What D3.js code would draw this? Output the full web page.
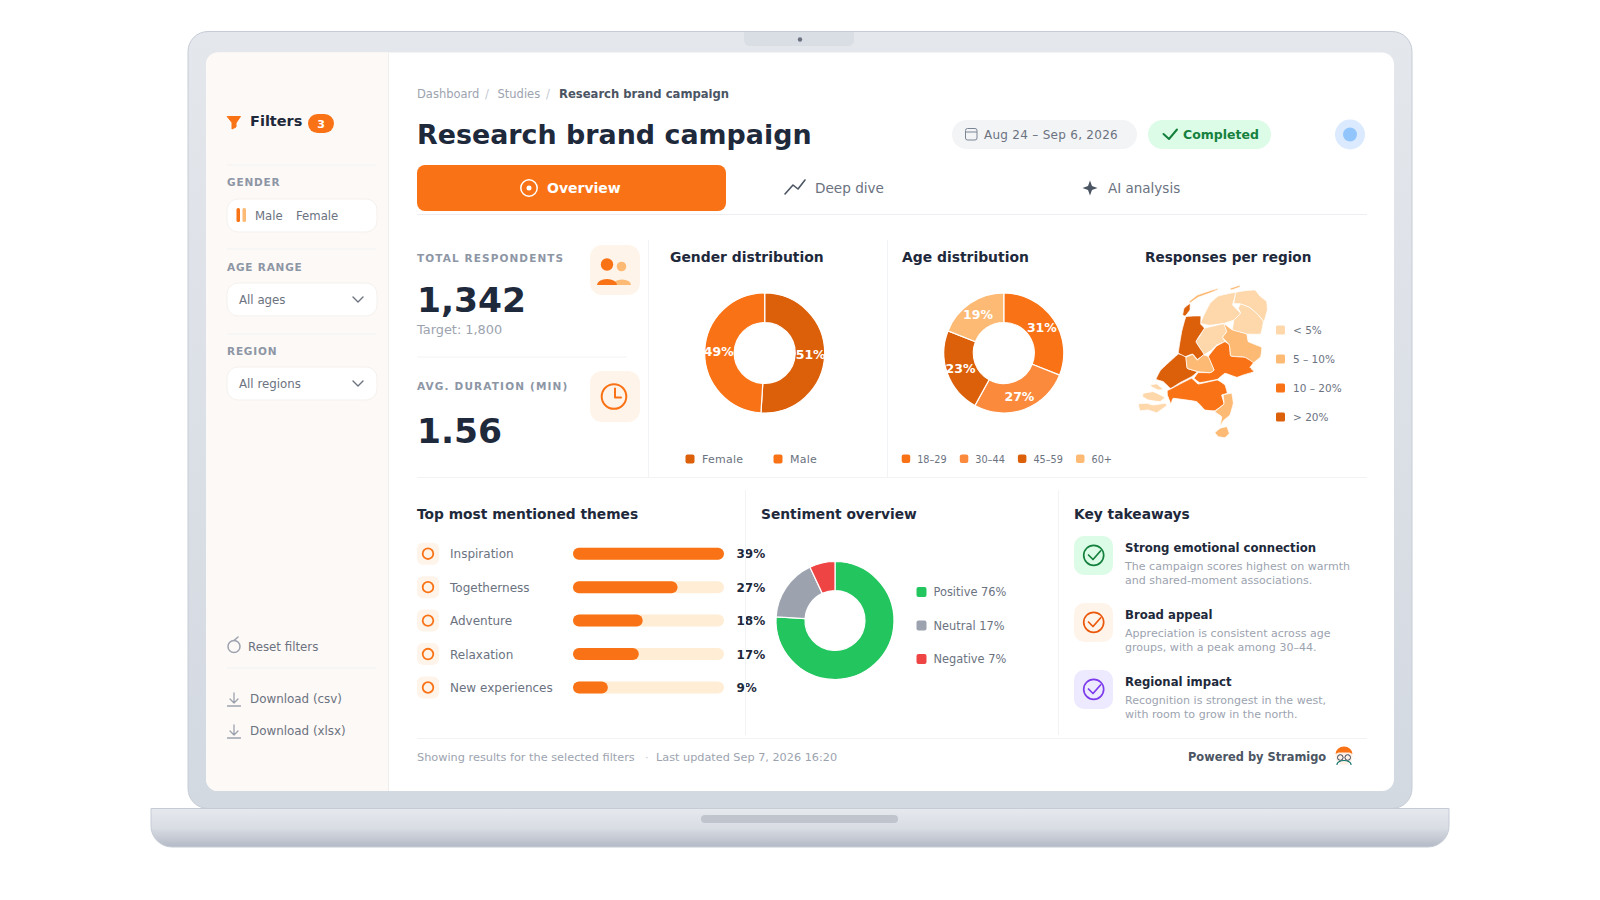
<!DOCTYPE html>
<html>
<head>
<meta charset="utf-8">
<script src="https://cdn.jsdelivr.net/npm/d3@7"></script>
<style>
  html, body { margin: 0; padding: 0; background: #fff; }
  svg { display: block; }
  text { font-family: "DejaVu Sans", sans-serif; }
</style>
</head>
<body>
<div id="chart"></div>
<script>
// chart values
const genderLabels = ['Female', 'Male'];
const genderValues = [51, 49];
const ageLabels = ['18\u201329', '30\u201344', '45\u201359', '60+'];
const ageValues = [31, 27, 23, 19];
const regionTiers = ['< 5%', '5 \u2013 10%', '10 \u2013 20%', '> 20%'];
const themeLabels = ['Inspiration', 'Togetherness', 'Adventure', 'Relaxation', 'New experiences'];
const themeValues = [39, 27, 18, 17, 9];
const sentimentLabels = ['Positive', 'Neutral', 'Negative'];
const sentimentValues = [76, 17, 7];
const takeawayTitles = ['Strong emotional connection', 'Broad appeal', 'Regional impact'];
const takeawayLines = [
  ['The campaign scores highest on warmth', 'and shared-moment associations.'],
  ['Appreciation is consistent across age', 'groups, with a peak among 30\u201344.'],
  ['Recognition is strongest in the west,', 'with room to grow in the north.']
];

// province outlines in map units, second item is the index into regionTiers
const regionShapes = [
  [[[272,190],[282,165],[300,130],[325,108],[378,97],[368,135],[392,160],[372,180],[342,190],[300,196]], 0],
  [[[378,97],[405,92],[435,90],[450,108],[470,125],[472,150],[462,185],[445,165],[420,143],[392,132],[372,130]], 0],
  [[[392,132],[420,143],[445,165],[460,185],[452,222],[410,222],[368,210],[372,180],[392,160],[385,145]], 0],
  [[[283,205],[342,191],[350,215],[338,232],[345,245],[320,255],[305,270],[282,283],[258,245],[270,228]], 0],
  [[[342,191],[368,210],[410,222],[415,245],[455,262],[452,290],[430,308],[405,292],[362,288],[358,255],[338,232],[350,215]], 1],
  [[[345,245],[358,255],[362,288],[405,292],[430,308],[420,322],[432,335],[400,345],[380,352],[345,340],[322,358],[270,368],[252,355],[265,338],[300,338],[312,330],[295,290],[320,258]], 2],
  [[[228,170],[272,168],[272,192],[283,205],[258,245],[282,283],[262,298],[248,282],[225,290],[205,278],[215,215]], 3],
  [[[218,165],[222,145],[240,130],[240,150],[226,168]], 3],
  [[[237,125],[262,105],[300,92],[325,85],[322,90],[298,100],[265,112],[242,128]], 1],
  [[[360,85],[388,76],[390,81],[365,90]], 1],
  [[[205,282],[228,292],[232,325],[262,335],[245,350],[210,368],[182,385],[160,365],[138,358],[152,330]], 3],
  [[[228,292],[248,284],[262,300],[280,285],[295,290],[312,330],[300,338],[265,335],[232,325]], 1],
  [[[172,392],[182,387],[210,372],[245,355],[265,372],[322,360],[345,375],[352,400],[335,405],[342,432],[315,452],[285,450],[260,425],[190,415],[183,432],[172,405]], 2],
  [[[340,405],[365,400],[370,430],[360,465],[340,482],[330,500],[335,470],[315,455],[342,432]], 1],
  [[[330,505],[350,500],[358,520],[345,533],[325,530],[315,518]], 1],
  [[[120,375],[140,372],[160,388],[145,390],[128,382]], 0],
  [[[100,400],[130,395],[165,412],[150,425],[115,420],[98,410]], 0],
  [[[85,432],[110,430],[130,435],[165,430],[170,437],[140,458],[115,450],[90,452]], 0]
];

const orange = '#f97316', orangeDark = '#dc5f0a', orangeMid = '#fb8a3c', orangeSoft = '#fdba74', orangePale = '#fed7aa';
const ink = '#1e293b', grey = '#6b7280', greyLight = '#9ca3af', rule = '#f1f3f5', tint = '#fff4ea';

const svg = d3.select('#chart').append('svg').attr('width', 1600).attr('height', 900);
const defs = svg.append('defs');

function gradient(id, stops) {
  const g = defs.append('linearGradient').attr('id', id).attr('x1', 0).attr('y1', 0).attr('x2', 0).attr('y2', 1);
  stops.forEach((c, i) => g.append('stop').attr('offset', i / (stops.length - 1)).attr('stop-color', c));
}
gradient('lid', ['#e4e7ec', '#d3d9e1']);
gradient('base', ['#e6e9ee', '#d9dde4', '#b4bac6']);

function label(x, y, str, size, color, opts = {}) {
  return svg.append('text').attr('x', x).attr('y', y).text(str)
    .attr('font-size', size).attr('fill', color)
    .attr('font-weight', opts.bold ? 700 : 400)
    .attr('letter-spacing', opts.spacing || null)
    .attr('text-anchor', opts.anchor || 'start');
}
function box(x, y, w, h, r, fill, stroke) {
  return svg.append('rect').attr('x', x).attr('y', y).attr('width', w).attr('height', h)
    .attr('rx', r).attr('fill', fill).attr('stroke', stroke || 'none');
}
function hline(x1, x2, y, color = rule) {
  svg.append('line').attr('x1', x1).attr('x2', x2).attr('y1', y).attr('y2', y).attr('stroke', color);
}
function vline(x, y1, y2, color = rule) {
  svg.append('line').attr('x1', x).attr('x2', x).attr('y1', y1).attr('y2', y2).attr('stroke', color);
}
function icon(d, color, width = 1.6, fill = 'none') {
  return svg.append('path').attr('d', d).attr('fill', fill).attr('stroke', color)
    .attr('stroke-width', width).attr('stroke-linecap', 'round').attr('stroke-linejoin', 'round');
}
function ring(cx, cy, r, color, width) {
  svg.append('circle').attr('cx', cx).attr('cy', cy).attr('r', r)
    .attr('fill', 'none').attr('stroke', color).attr('stroke-width', width);
}
function dot(cx, cy, r, fill) {
  svg.append('circle').attr('cx', cx).attr('cy', cy).attr('r', r).attr('fill', fill);
}

// laptop
box(188, 31.5, 1224, 777, 20, 'url(#lid)', '#c6ccd6');
svg.append('path').attr('d', 'M744 32H854V40a6 6 0 0 1-6 6H750a6 6 0 0 1-6-6Z').attr('fill', '#d9dde4');
dot(800, 39.5, 2.2, '#6b7280');
svg.append('path').attr('fill', 'url(#base)').attr('stroke', '#c6ccd6')
  .attr('d', 'M151 808.5H1449V826a21 21 0 0 1-21 21H172a21 21 0 0 1-21-21Z');
box(701, 815, 197, 8, 4, '#bfc4cd');

// screen
box(206, 52.5, 1188, 738.5, 12, '#ffffff');
svg.append('path').attr('fill', '#fdf9f6')
  .attr('d', 'M388 52.5V791H218a12 12 0 0 1-12-12V64.5a12 12 0 0 1 12-12Z');
vline(388.5, 52.5, 791, '#f0eeec');

// sidebar
icon('M227.5 116.5H240.5L236 123V127L232 129V123Z', orange, 1, orange);
label(250, 126, 'Filters', 14.5, ink, { bold: true });
box(308, 114, 26, 19, 9.5, orange);
label(321, 127.5, '3', 11, '#fff', { bold: true, anchor: 'middle' });

hline(227, 376, 165);
label(227, 186, 'GENDER', 10.5, '#8d96a5', { bold: true, spacing: 0.8 });
box(227, 199, 150, 33, 11, '#fff', '#f5f1ed');
box(236.5, 208, 3.5, 14, 1.5, orange);
box(242.5, 208, 3.5, 14, 1.5, orangeSoft);
label(255, 219.5, 'Male', 11.7, grey);
label(296, 219.5, 'Female', 11.7, grey);

hline(227, 376, 249);
label(227, 271, 'AGE RANGE', 10.5, '#8d96a5', { bold: true, spacing: 0.8 });
box(227, 283, 150, 33, 11, '#fff', '#f5f1ed');
label(239, 304, 'All ages', 11.8, grey);
icon('M353 297L358 302L363 297', grey, 1.4);

hline(227, 376, 334);
label(227, 355, 'REGION', 10.5, '#8d96a5', { bold: true, spacing: 0.8 });
box(227, 367, 150, 33, 11, '#fff', '#f5f1ed');
label(239, 388, 'All regions', 11.8, grey);
icon('M353 381L358 386L363 381', grey, 1.4);

ring(234, 646.5, 6, greyLight, 1.5);
icon('M234 640.5L238 637', greyLight, 1.5);
label(248, 651, 'Reset filters', 11.8, grey);
hline(227, 376, 668);
[0, 32].forEach((dy, i) => {
  icon(`M234 ${693 + dy}V${703 + dy}M230 ${699 + dy}L234 ${703 + dy}L238 ${699 + dy}M227.5 ${706 + dy}H240.5`, greyLight, 1.3);
  label(250, 703 + (i ? 31.5 : 0), i ? 'Download (xlsx)' : 'Download (csv)', 11.9, grey);
});

// header
label(417, 98, 'Dashboard', 11.5, greyLight);
label(485, 98, '/', 11.5, '#c4c9d1');
label(497.5, 98, 'Studies', 11.5, greyLight);
label(546, 98, '/', 11.5, '#c4c9d1');
label(559, 98, 'Research brand campaign', 11.6, '#4b5563', { bold: true });
label(417, 144, 'Research brand campaign', 26.9, ink, { bold: true });

box(952, 120, 185, 29, 14.5, '#f3f4f6');
box(965.5, 128.5, 11.5, 11.5, 2, 'none', '#7b8594');
hline(965.5, 977, 132, '#7b8594');
label(984, 139, 'Aug 24 \u2013 Sep 6, 2026', 12, grey, { spacing: 0.28 });
box(1148, 120, 123, 29, 14.5, '#dcfce7');
icon('M1163.5 134L1169 139L1177 129.5', '#15803d', 2);
label(1183, 139, 'Completed', 12.5, '#15803d', { bold: true });
dot(1350, 134.5, 15, '#dbeafe');
dot(1350, 134.5, 7, '#93c5fd');

box(417, 165, 309, 46, 8, orange);
ring(529, 188, 8.2, '#fff', 1.5);
dot(529, 188, 2.5, '#fff');
label(547, 193, 'Overview', 14, '#fff', { bold: true });
icon('M785 194L793 185L798 189L805 180', '#4b5563', 1.6);
label(815, 193, 'Deep dive', 13.6, grey);
svg.append('path').attr('fill', '#4b5563')
  .attr('d', 'M1090 180.5L1092 186L1097.5 188L1092 190L1090 195.5L1088 190L1082.5 188L1088 186Z');
label(1108, 193, 'AI analysis', 13.5, grey);
hline(417, 1367, 214.5, '#eceef1');

// stat cards
label(417, 262, 'TOTAL RESPONDENTS', 10.5, '#8d96a5', { bold: true, spacing: 1.1 });
label(417, 312, '1,342', 34.5, ink, { bold: true });
label(417, 334, 'Target: 1,800', 12.9, greyLight);
box(590, 245, 50, 50, 12, tint);
dot(607, 264.5, 6.2, orange);
dot(621.5, 266.5, 4.8, orangeSoft);
svg.append('path').attr('fill', orangeSoft).attr('d', 'M613 285a9 5.5 0 0 1 18 0Z');
svg.append('path').attr('fill', orange).attr('d', 'M597 285a10 6 0 0 1 20 0Z');
hline(417, 627, 357);
label(417, 390, 'AVG. DURATION (MIN)', 10.5, '#8d96a5', { bold: true, spacing: 1.15 });
label(417, 443, '1.56', 34.5, ink, { bold: true });
box(590, 371, 50, 51, 12, tint);
ring(614, 396.5, 12.3, orange, 2);
icon('M615 388.5V397.5H621', orange, 2);

vline(648.5, 240, 477);
vline(887.5, 240, 477);
hline(417, 1367, 477.5);

// donut helper, used for gender, age and sentiment
const pie = d3.pie().sort(null).value(d => d);
function donut(cx, cy, outer, inner, values, colors, showLabels) {
  const arc = d3.arc().outerRadius(outer).innerRadius(inner);
  const labelArc = d3.arc().outerRadius(46).innerRadius(46);
  const g = svg.append('g').attr('transform', `translate(${cx},${cy})`);
  const slices = pie(values);
  g.selectAll('path').data(slices).join('path')
    .attr('d', arc).attr('fill', (d, i) => colors[i])
    .attr('stroke', '#fff').attr('stroke-width', 1.2);
  if (showLabels) {
    g.selectAll('text').data(slices).join('text')
      .attr('transform', d => `translate(${labelArc.centroid(d)})`)
      .attr('dy', '0.36em').attr('text-anchor', 'middle')
      .attr('font-size', 12.5).attr('font-weight', 700).attr('fill', '#fff')
      .text(d => `${d.data}%`);
  }
}

// gender
label(670, 262, 'Gender distribution', 13.9, ink, { bold: true });
const genderColors = [orangeDark, orange];
donut(764.7, 353, 60, 30.5, genderValues, genderColors, true);
const genderX = [690, 778];
genderLabels.forEach((name, i) => {
  box(genderX[i] - 4.5, 454.5, 9, 9, 2, genderColors[i]);
  label(genderX[i] + 12, 463, name, 11, grey, { spacing: 0.25 });
});

// age
label(902, 262, 'Age distribution', 13.9, ink, { bold: true });
const ageColors = [orange, orangeMid, orangeDark, orangeSoft];
donut(1003.8, 353, 60, 30.5, ageValues, ageColors, true);
const ageX = d3.scalePoint().domain(ageLabels).range([905.7, 1080]);
ageLabels.forEach((name, i) => {
  box(ageX(name) - 4, 454.5, 8.5, 8.5, 2, ageColors[i]);
  label(ageX(name) + 11.5, 462.5, name, 9.7, grey);
});

// region map
label(1145, 262, 'Responses per region', 13.6, ink, { bold: true });
const tierColors = [orangePale, orangeSoft, orange, orangeDark];
const mapX = d3.scaleLinear().domain([0, 840]).range([1110, 1390]);
const mapY = d3.scaleLinear().domain([0, 570]).range([260, 450]);
const mapLine = d3.line().x(d => mapX(d[0])).y(d => mapY(d[1])).curve(d3.curveCardinalClosed.tension(0.75));
svg.append('g').selectAll('path').data(regionShapes).join('path')
  .attr('d', d => mapLine(d[0]))
  .attr('fill', d => tierColors[d[1]])
  .attr('stroke', '#fff').attr('stroke-width', 0.8).attr('stroke-linejoin', 'round');
const tierY = d3.scalePoint().domain(regionTiers).range([330, 417]);
regionTiers.forEach((name, i) => {
  box(1276, tierY(name) - 4.5, 9, 9, 1.5, tierColors[i]);
  label(1293, tierY(name) + 4, name, 10.5, grey);
});

// themes
label(417, 518.5, 'Top most mentioned themes', 13.8, ink, { bold: true });
const themeY = d3.scalePoint().domain(themeLabels).range([553.7, 687.5]);
const barX = d3.scaleLinear().domain([0, d3.max(themeValues)]).range([0, 151]);
themeLabels.forEach((name, i) => {
  const y = themeY(name);
  box(417, y - 11, 22, 22, 6, tint);
  ring(428, y, 5.3, orange, 1.8);
  label(450, y + 4.5, name, 12, grey);
  box(573, y - 6, 151, 12, 6, '#ffedd5');
  box(573, y - 6, barX(themeValues[i]), 12, 6, orange);
  label(736.5, y + 4.5, `${themeValues[i]}%`, 12, ink, { bold: true });
});

vline(745.5, 490, 735);
vline(1058.5, 490, 735);

// sentiment
label(761, 518.5, 'Sentiment overview', 13.8, ink, { bold: true });
const sentimentColors = ['#22c55e', '#9ca3af', '#ef4444'];
donut(835, 620.5, 59, 30, sentimentValues, sentimentColors, false);
const sentimentY = d3.scalePoint().domain(sentimentLabels).range([592, 659]);
sentimentLabels.forEach((name, i) => {
  box(916.5, sentimentY(name) - 5, 10, 10, 2, sentimentColors[i]);
  label(933.5, sentimentY(name) + 4, `${name} ${sentimentValues[i]}%`, 11.4, grey);
});

// takeaways
label(1074, 518.5, 'Key takeaways', 13.8, ink, { bold: true });
const takeawayTint = ['#dcfce7', tint, '#ede9fe'];
const takeawayColor = ['#15803d', '#ea580c', '#7c3aed'];
const takeawayY = d3.scalePoint().domain(takeawayTitles).range([536, 670]);
takeawayTitles.forEach((title, i) => {
  const y = takeawayY(title);
  box(1074, y, 39, 39, 10, takeawayTint[i]);
  ring(1093.7, y + 19.3, 10, takeawayColor[i], 1.7);
  icon(`M1088.5 ${y + 19}L1093 ${y + 23.5}L1100.5 ${y + 15}`, takeawayColor[i], 1.7);
  label(1125, y + 16, title, 11.7, ink, { bold: true });
  takeawayLines[i].forEach((line, j) => {
    label(1125, y + 33.5 + j * 14.7, line, 11.05, greyLight);
  });
});

// footer
hline(417, 1367, 738.5);
label(417, 760.5, 'Showing results for the selected filters', 11.3, greyLight);
label(645, 760.5, '\u00b7', 11.3, '#c4c9d1');
label(656, 760.5, 'Last updated Sep 7, 2026 16:20', 11.25, greyLight);
label(1188, 760.5, 'Powered by Stramigo', 11.4, '#4b5563', { bold: true });

// mascot
dot(1344, 756.5, 8.5, '#fff1e6');
svg.append('path').attr('fill', orange).attr('d', 'M1335.5 754a8.5 7.5 0 0 1 17 0l-3-1.5h-11Z');
ring(1340.3, 757.5, 2.8, '#334155', 1);
ring(1347.7, 757.5, 2.8, '#334155', 1);
icon('M1337 764.5a7 4 0 0 1 14 0', '#0f766e', 1.2);
</script>
</body>
</html>
